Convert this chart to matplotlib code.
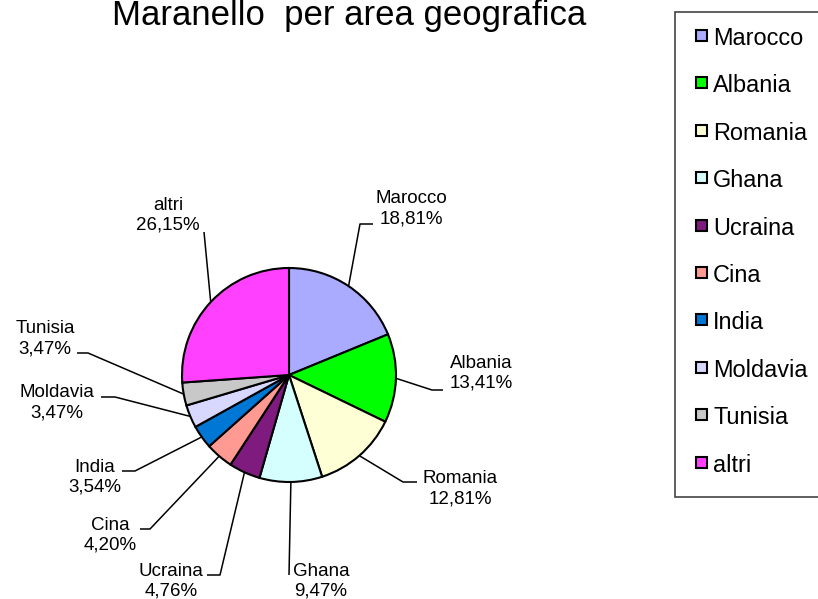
import numpy as np
import matplotlib

matplotlib.use("Agg")
import matplotlib.pyplot as plt
from matplotlib.patches import Rectangle

plt.rcParams["font.family"] = ["Liberation Sans", "DejaVu Sans"]

# data
title = "Maranello  per area geografica"
countries = ["Marocco", "Albania", "Romania", "Ghana", "Ucraina",
             "Cina", "India", "Moldavia", "Tunisia", "altri"]
shares = [18.81, 13.41, 12.81, 9.47, 4.76, 4.20, 3.54, 3.47, 3.47, 26.15]
colors = ["#AAAAFF", "#00FF00", "#FFFFD5", "#D5FFFF", "#7F1A7F",
          "#FF9A92", "#0077D5", "#D8D8FF", "#C8C8C8", "#FF40FF"]

# layout in pixels (y grows downwards): label anchor (x centre, baseline of
# the percentage line), leader elbow and end of the short horizontal tick
label_layout = {
    "Marocco": ((411, 223), (360, 224), (373, 224)),
    "Albania": ((481, 388), (432, 390), (443, 390)),
    "Romania": ((460, 503), (403, 482), (417, 482)),
    "Ghana": ((321, 596), (289, 575), None),
    "Ucraina": ((171, 596), (220, 575), (207, 575)),
    "Cina": ((110, 550), (150, 529), (140, 529)),
    "India": ((95, 492), (135, 471), (122, 471)),
    "Moldavia": ((57, 417), (115, 397), (101, 397)),
    "Tunisia": ((45, 353), (88, 353), (77, 353)),
    "altri": ((168, 230), (204, 232), None),
}
W, H = 818, 599
center = (289, 375)
radius = 107

fig = plt.figure(figsize=(W / 100, H / 100), dpi=100)
ax = fig.add_axes([0, 0, 1, 1])

# inverted y: counterclock in data space is clockwise on screen, start at top
ax.pie(shares, colors=colors, startangle=-90, counterclock=True,
       center=center, radius=radius,
       wedgeprops=dict(edgecolor="black", linewidth=1.5))
ax.set_xlim(0, W)
ax.set_ylim(H, 0)
ax.set_aspect("equal")
ax.axis("off")

total = sum(shares)
cum = 0.0
for name, value in zip(countries, shares):
    mid = np.deg2rad(360.0 * (cum + value / 2) / total)
    cum += value
    edge = (center[0] + radius * np.sin(mid), center[1] - radius * np.cos(mid))
    (tx, ty), elbow, tick = label_layout[name]
    xs = [edge[0], elbow[0]]
    ys = [edge[1], elbow[1]]
    if tick is not None:
        xs.append(tick[0])
        ys.append(tick[1])
    ax.plot(xs, ys, color="black", linewidth=1.1, solid_capstyle="butt")
    text = f"{name}\n{value:.2f}".replace(".", ",") + "%"
    ax.text(tx, ty, text, ha="center", va="baseline", multialignment="center",
            fontsize=13.5, color="black")

ax.text(349, 25, title, ha="center", va="baseline", fontsize=25)

# legend box on the right
ax.add_patch(Rectangle((675, 12), 160, 485, facecolor="white",
                       edgecolor="#444444", linewidth=1.2, clip_on=False))
for i, (name, col) in enumerate(zip(countries, colors)):
    yc = 35.5 + i * 47.4
    ax.add_patch(Rectangle((695.5, yc - 5.5), 11, 11, facecolor=col,
                           edgecolor="black", linewidth=1.5))
    ax.text(713, yc + 3, name, ha="left", va="center", fontsize=16.9)

fig.savefig("out.png", dpi=100)
